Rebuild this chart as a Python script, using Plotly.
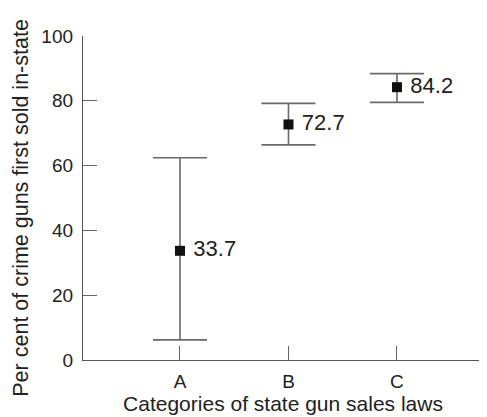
import plotly.graph_objects as go

categories = ["A", "B", "C"]
means = [33.7, 72.7, 84.2]
upper = [62.4, 79.2, 88.4]
lower = [6.2, 66.4, 79.5]
labels = ["33.7", "72.7", "84.2"]
y_ticks = [0, 20, 40, 60, 80, 100]

err_plus = [u - m for u, m in zip(upper, means)]
err_minus = [m - l for m, l in zip(means, lower)]

font = "Liberation Sans, Arial, Helvetica, sans-serif"

fig = go.Figure()
fig.add_trace(go.Scatter(
    x=categories, y=means,
    mode="markers+text",
    text=[" " + t for t in labels],
    textposition="middle right",
    textfont=dict(size=22, color="#222", family=font),
    marker=dict(symbol="square", size=10, color="#111"),
    error_y=dict(type="data", symmetric=False, array=err_plus, arrayminus=err_minus,
                 color="#6a6a6a", thickness=1.6, width=27),
    cliponaxis=False,
    showlegend=False,
))

# the page body has an 8px default margin, so the figure is 8px smaller
fig.update_layout(
    width=479, height=409,
    margin=dict(l=75, r=4, t=28, b=57),
    paper_bgcolor="white", plot_bgcolor="white",
    font=dict(family=font, color="#222"),
    xaxis=dict(
        type="category", range=[-0.894, 2.793],
        showline=True, linecolor="#555", linewidth=1.3,
        ticks="inside", ticklen=14, tickcolor="#666", tickwidth=1.3,
        tickfont=dict(size=19, color="#222"),
        ticklabelstandoff=4,
        showgrid=False, zeroline=False,
        title=dict(text="Categories of state gun sales laws", font=dict(size=21, color="#222"), standoff=5),
    ),
    yaxis=dict(
        range=[0, 100], tickvals=y_ticks,
        showline=True, linecolor="#555", linewidth=1.3,
        ticks="inside", ticklen=14, tickcolor="#666", tickwidth=1.3,
        tickfont=dict(size=19, color="#222"),
        ticklabelstandoff=5,
        showgrid=False, zeroline=False,
    ),
    annotations=[dict(
        text="Per cent of crime guns first sold in-state",
        xref="paper", yref="paper", x=-0.155, y=0.47,
        xanchor="center", yanchor="middle", textangle=-90,
        showarrow=False, font=dict(size=21.5, color="#222"),
    )],
)

fig.write_html("out.html")
